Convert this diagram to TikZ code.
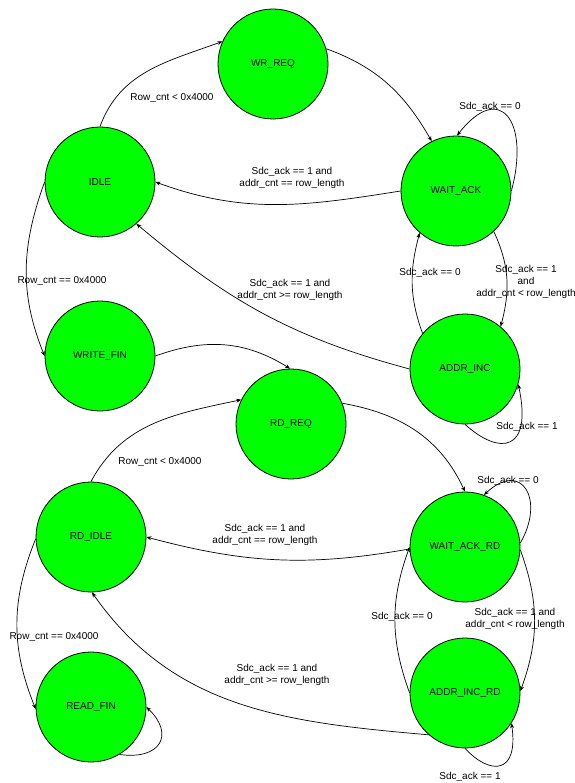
\documentclass[tikz,border=0pt]{standalone}
\usepackage{fontspec}
\setmainfont{Liberation Sans}
\usetikzlibrary{arrows.meta}
\definecolor{stategreen}{HTML}{00FF00}
\begin{document}
\begin{tikzpicture}[x=1pt,y=1pt,
  state/.style={circle,draw=black,line width=0.8pt,fill=stategreen,
    minimum size=110pt,inner sep=0pt,font=\fontsize{10}{12}\selectfont},
  trans/.style={draw=black,line width=0.7pt,-{Stealth[length=5pt,width=4pt]}},
  cond/.style={font=\fontsize{10}{12}\selectfont,align=center,inner sep=1pt}]
\useasboundingbox (0,0) rectangle (574,-783);

% write side
\node[state] (wrreq)    at (273,-64)  {WR\_REQ};
\node[state] (idle)     at (100,-182) {IDLE};
\node[state] (waitack)  at (456,-191) {WAIT\_ACK};
\node[state] (writefin) at (100,-356) {WRITE\_FIN};
\node[state] (addrinc)  at (465,-369) {ADDR\_INC};
% read side
\node[state] (rdreq)     at (291,-424) {RD\_REQ};
\node[state] (rdidle)    at (91,-537)  {RD\_IDLE};
\node[state] (waitackrd) at (465,-547) {WAIT\_ACK\_RD};
\node[state] (addrincrd) at (465,-693) {ADDR\_INC\_RD};
\node[state] (readfin)   at (91,-707)  {READ\_FIN};

% write transitions
\draw[trans] (idle.90) to[out=70,in=200] (wrreq.156);
\draw[trans] (wrreq.16) to[out=-20,in=120] (waitack.116);
\draw[trans] (waitack.0) to[out=75,in=52,out distance=72pt,in distance=70pt] (waitack.89);
\draw[trans] (waitack.180) to[out=189,in=-20] (idle.0);
\draw[trans] (waitack.-47) to[out=-65,in=75] (addrinc.50);
\draw[trans] (addrinc.140) to[out=110,in=-105] (waitack.229);
\draw[trans] (addrinc.180) to[out=165,in=-40] (idle.-49);
\draw[trans] (addrinc.-90) to[out=-42,in=-78,out distance=47pt,in distance=69pt] (addrinc.-16);
\draw[trans] (idle.180) to[out=-110,in=112] (writefin.180);
\draw[trans] (writefin.0) to[out=20,in=148] (rdreq.91);

% read transitions
\draw[trans] (rdidle.90) to[out=62,in=192] (rdreq.154);
\draw[trans] (rdreq.22) to[out=-10,in=115] (waitackrd.90);
\draw[trans] (waitackrd.4) to[out=60,in=43,out distance=50pt,in distance=52pt] (waitackrd.70);
\draw[trans] (waitackrd.182) to[out=190,in=-15] (rdidle.0);
\draw[trans] (waitackrd.-3) to[out=-70,in=70] (addrincrd.2);
\draw[trans] (addrincrd.180) to[out=110,in=-110] (waitackrd.180);
\draw[trans] (addrincrd.229) to[out=175,in=-55] (rdidle.-89);
\draw[trans] (addrincrd.-90) to[out=-47,in=-82,out distance=37pt,in distance=52pt] (addrincrd.-33);
\draw[trans] (rdidle.182) to[out=-112,in=112] (readfin.182);
\draw[trans] (readfin.-59) to[out=-8,in=-44,out distance=41pt,in distance=40pt] (readfin.0);

% transition conditions
\node[cond] (c1)  at (172,-98)  {Row\_cnt < 0x4000};
\node[cond] (c2)  at (490,-107) {Sdc\_ack == 0};
\node[cond] (c3)  at (292,-178) {Sdc\_ack == 1 and\\addr\_cnt == row\_length};
\node[cond] (c4)  at (526,-282) {Sdc\_ack == 1\\and\\addr\_cnt < row\_length};
\node[cond] (c5)  at (430,-273) {Sdc\_ack == 0};
\node[cond] (c6)  at (290,-290) {Sdc\_ack == 1 and\\addr\_cnt >= row\_length};
\node[cond] (c7)  at (527,-427) {Sdc\_ack == 1};
\node[cond] (c8)  at (62,-281)  {Row\_cnt == 0x4000};
\node[cond] (c9)  at (160,-462) {Row\_cnt < 0x4000};
\node[cond] (c10) at (508,-481) {Sdc\_ack == 0};
\node[cond] (c11) at (265,-535) {Sdc\_ack == 1 and\\addr\_cnt == row\_length};
\node[cond] (c12) at (515,-619) {Sdc\_ack == 1 and\\addr\_cnt < row\_length};
\node[cond] (c13) at (402,-617) {Sdc\_ack == 0};
\node[cond] (c14) at (277,-675) {Sdc\_ack == 1 and\\addr\_cnt >= row\_length};
\node[cond] (c15) at (54,-637)  {Row\_cnt == 0x4000};
\node[cond] (c16) at (470,-777) {Sdc\_ack == 1};
\end{tikzpicture}
\end{document}
